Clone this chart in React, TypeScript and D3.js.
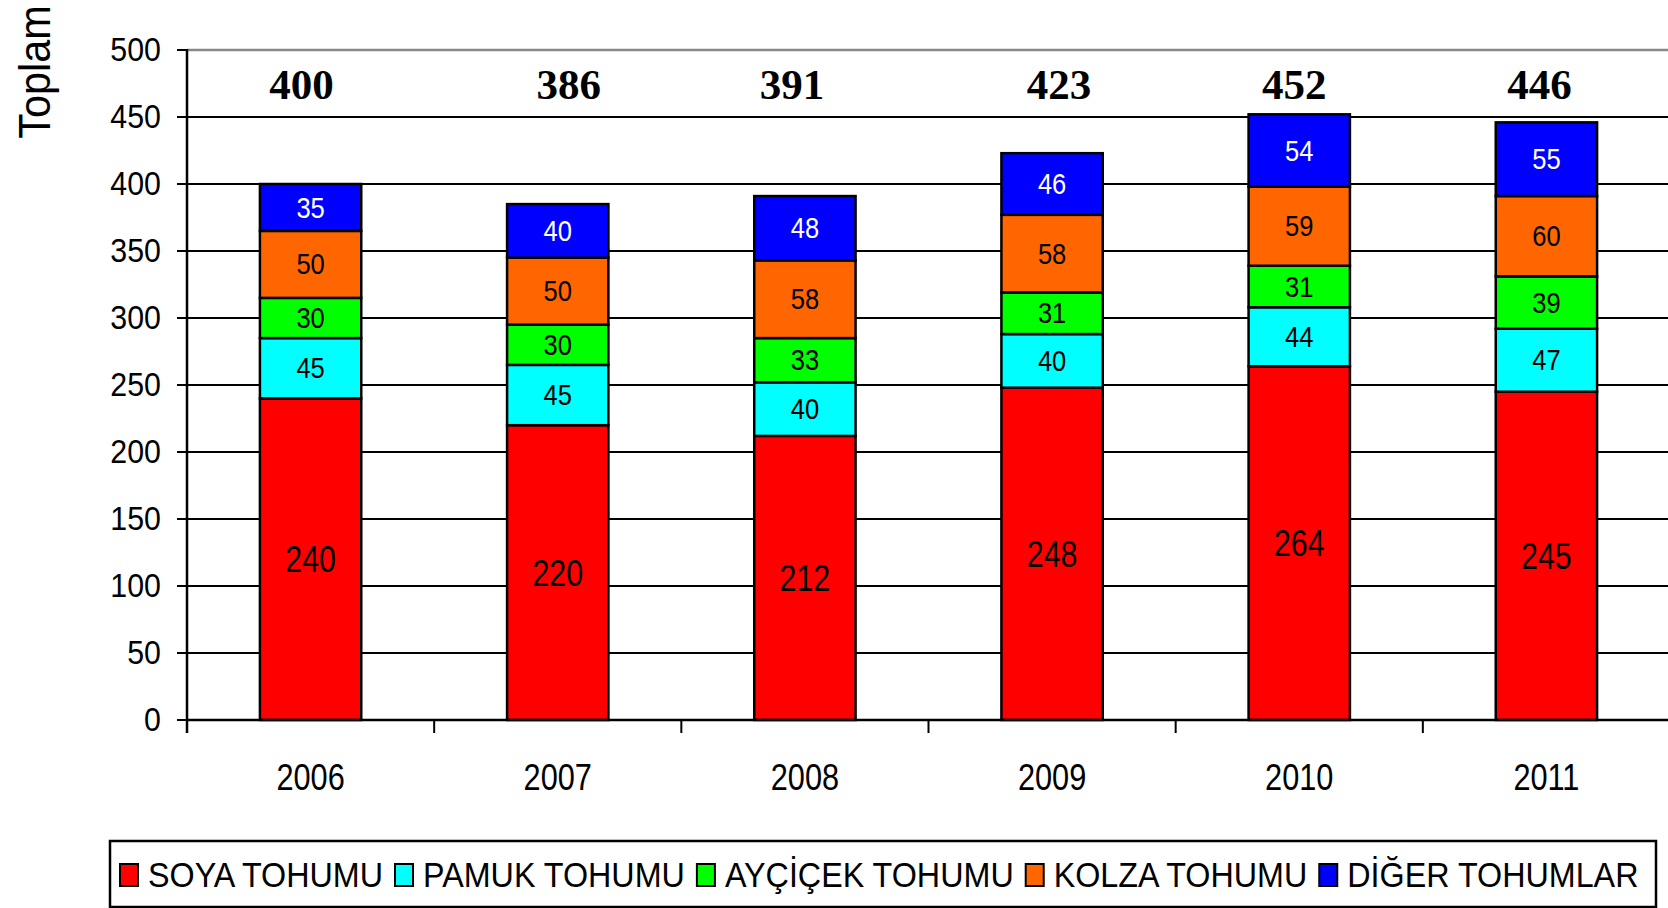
import React, { useEffect, useRef } from 'react';
import * as d3 from 'd3';

const years = ['2006', '2007', '2008', '2009', '2010', '2011'];
const soya = [240, 220, 212, 248, 264, 245];
const pamuk = [45, 45, 40, 40, 44, 47];
const aycicek = [30, 30, 33, 31, 31, 39];
const kolza = [50, 50, 58, 58, 59, 60];
const diger = [35, 40, 48, 46, 54, 55];
const totals = [400, 386, 391, 423, 452, 446];
const yTicks = [0, 50, 100, 150, 200, 250, 300, 350, 400, 450, 500];

const seriesNames = ['SOYA TOHUMU', 'PAMUK TOHUMU', 'AYÇİÇEK TOHUMU', 'KOLZA TOHUMU', 'DİĞER TOHUMLAR'];
const seriesColors = ['#ff0000', '#00ffff', '#00ff00', '#ff6600', '#0000ff'];

// the totals were hand-placed text boxes, so they sit a little off each bar's centre
const totalNudge = [-9, 11, -13, 7, -5, -7];

const W = 1668;
const H = 908;
const FONT = '"Liberation Sans", Arial, sans-serif';

export default function App() {
  const ref = useRef<SVGSVGElement>(null);

  useEffect(() => {
    const svg = d3.select(ref.current);
    svg.selectAll('*').remove();

    const left = 187, right = 1670, top = 50, bottom = 720;

    const x = d3.scaleBand().domain(years).range([left, right]).paddingInner(0.59).paddingOuter(0.295);
    const band = d3.scaleBand().domain(years).range([left, right]);
    const y = d3.scaleLinear().domain([0, 500]).range([bottom, top]);

    const rows = years.map((yr, i) => ({
      year: yr,
      s0: soya[i], s1: pamuk[i], s2: aycicek[i], s3: kolza[i], s4: diger[i],
    }));
    const stack = d3.stack<any>().keys(['s0', 's1', 's2', 's3', 's4']);
    const layers = stack(rows);

    // gridlines
    svg.append('g')
      .selectAll('line')
      .data(yTicks.filter(t => t > 0))
      .enter().append('line')
      .attr('x1', left).attr('x2', W)
      .attr('y1', d => y(d)).attr('y2', d => y(d))
      .attr('stroke', d => d === 500 ? '#888' : '#000')
      .attr('stroke-width', d => d === 500 ? 2.5 : 2);

    // bars
    const lg = svg.append('g')
      .selectAll('g')
      .data(layers)
      .enter().append('g')
      .attr('fill', (d, i) => seriesColors[i]);
    lg.selectAll('rect')
      .data(d => d)
      .enter().append('rect')
      .attr('x', d => x(d.data.year)!)
      .attr('width', x.bandwidth())
      .attr('y', d => y(d[1]))
      .attr('height', d => y(d[0]) - y(d[1]))
      .attr('stroke', '#000')
      .attr('stroke-width', 2.5);

    // segment labels
    layers.forEach((layer, si) => {
      const big = si === 0;
      const fs = big ? 37 : 29;
      const sx = big ? 0.82 : 0.88;
      svg.append('g')
        .selectAll('text')
        .data(layer)
        .enter().append('text')
        .attr('transform', d => `translate(${x(d.data.year)! + x.bandwidth() / 2},${(y(d[0]) + y(d[1])) / 2}) scale(${sx},1)`)
        .attr('text-anchor', 'middle')
        .attr('dominant-baseline', 'central')
        .attr('font-family', FONT)
        .attr('font-size', fs)
        .attr('fill', si === 4 ? '#fff' : '#000')
        .text(d => d[1] - d[0]);
    });

    // totals
    svg.append('g')
      .selectAll('text')
      .data(totals)
      .enter().append('text')
      .attr('x', (d, i) => x(years[i])! + x.bandwidth() / 2 + totalNudge[i])
      .attr('y', 99)
      .attr('text-anchor', 'middle')
      .attr('font-family', '"Liberation Serif", "Times New Roman", serif')
      .attr('font-weight', 'bold')
      .attr('font-size', 43)
      .text(d => d);

    // y axis
    const ya = svg.append('g');
    ya.append('line')
      .attr('x1', left).attr('x2', left).attr('y1', top - 1).attr('y2', bottom + 13)
      .attr('stroke', '#000').attr('stroke-width', 2.5);
    ya.selectAll('line.tick')
      .data(yTicks)
      .enter().append('line')
      .attr('class', 'tick')
      .attr('x1', left - 10).attr('x2', left)
      .attr('y1', d => y(d)).attr('y2', d => y(d))
      .attr('stroke', '#000').attr('stroke-width', 2);
    ya.selectAll('text')
      .data(yTicks)
      .enter().append('text')
      .attr('transform', d => `translate(161,${y(d)}) scale(0.92,1)`)
      .attr('text-anchor', 'end')
      .attr('dominant-baseline', 'central')
      .attr('font-family', FONT)
      .attr('font-size', 33)
      .text(d => d);

    // x axis
    const xa = svg.append('g');
    xa.append('line')
      .attr('x1', left).attr('x2', W).attr('y1', bottom).attr('y2', bottom)
      .attr('stroke', '#000').attr('stroke-width', 2.5);
    xa.selectAll('line.tick')
      .data(years.slice(1))
      .enter().append('line')
      .attr('class', 'tick')
      .attr('x1', d => band(d)!).attr('x2', d => band(d)!)
      .attr('y1', bottom).attr('y2', bottom + 13)
      .attr('stroke', '#000').attr('stroke-width', 2);
    xa.selectAll('text')
      .data(years)
      .enter().append('text')
      .attr('transform', d => `translate(${band(d)! + band.bandwidth() / 2},790) scale(0.83,1)`)
      .attr('text-anchor', 'middle')
      .attr('font-family', FONT)
      .attr('font-size', 37)
      .text(d => d);

    // y title
    svg.append('text')
      .attr('transform', 'translate(50,72) rotate(-90) scale(0.92,1)')
      .attr('text-anchor', 'middle')
      .attr('font-family', FONT)
      .attr('font-size', 45)
      .text('Toplam');

    // legend
    const leg = svg.append('g');
    leg.append('rect')
      .attr('x', 110).attr('y', 841).attr('width', 1546).attr('height', 66)
      .attr('fill', '#fff').attr('stroke', '#000').attr('stroke-width', 2.5);
    let cx = 120;
    seriesNames.forEach((name, i) => {
      leg.append('rect')
        .attr('x', cx).attr('y', 864).attr('width', 18).attr('height', 22)
        .attr('fill', seriesColors[i]).attr('stroke', '#000').attr('stroke-width', 2);
      const t = leg.append('text')
        .attr('transform', `translate(${cx + 28},887) scale(0.897,1)`)
        .attr('font-family', FONT)
        .attr('font-size', 36)
        .text(name);
      const w = (t.node() as SVGTextElement).getComputedTextLength() * 0.897;
      cx += 28 + w + 12;
    });
  }, []);

  return (
    <svg ref={ref} width={W} height={H} style={{ position: 'absolute', left: 0, top: 0, background: '#fff' }} />
  );
}
